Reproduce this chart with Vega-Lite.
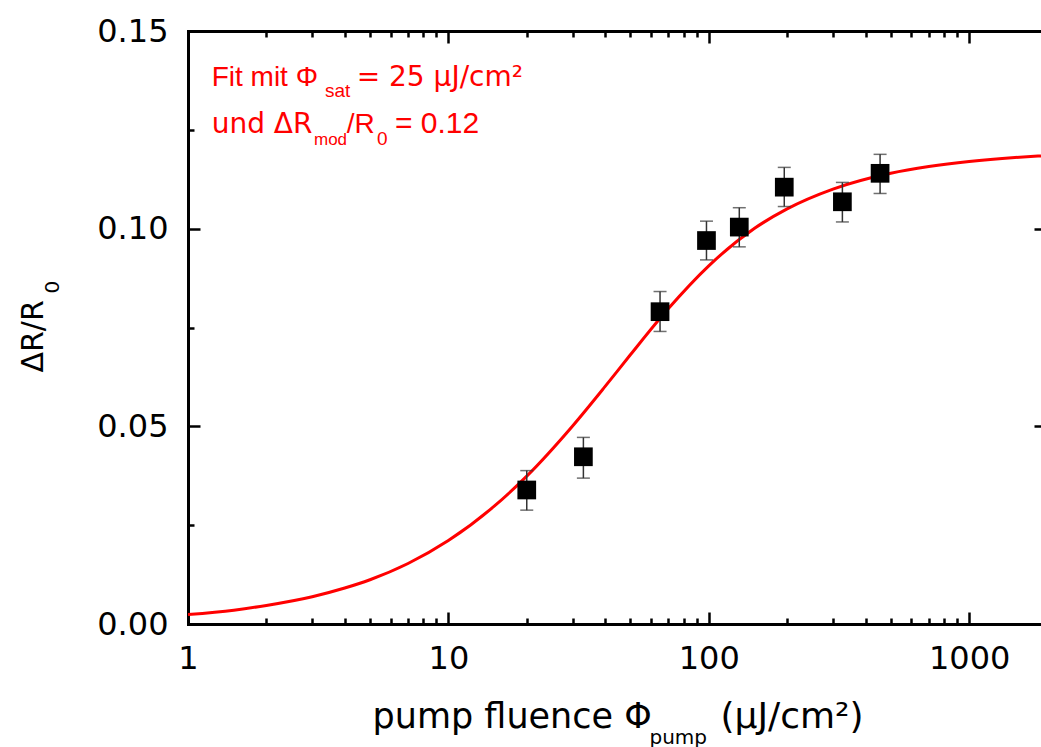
{
  "$schema": "https://vega.github.io/schema/vega-lite/v6.json",
  "width": 853,
  "height": 593,
  "autosize": {"type": "none"},
  "padding": {"left": 188, "top": 31, "right": 0, "bottom": 123},
  "background": "white",
  "config": {
    "view": {"stroke": null},
    "axis": {
      "grid": false,
      "domainColor": "black",
      "tickColor": "black",
      "labelColor": "black",
      "titleColor": "black",
      "labelFont": "DejaVu Sans",
      "titleFont": "DejaVu Sans",
      "titleFontWeight": "normal",
      "domainWidth": 3,
      "domainCap": "square",
      "tickWidth": 2.5,
      "labelFlush": false,
      "labelOverlap": false,
      "labelBound": false
    }
  },
  "datasets": {
    "fit": [
      {"fluence": 1, "dr": 0.0024},
      {"fluence": 1.5, "dr": 0.0035},
      {"fluence": 2, "dr": 0.0047},
      {"fluence": 3, "dr": 0.0069},
      {"fluence": 4, "dr": 0.0091},
      {"fluence": 5, "dr": 0.0112},
      {"fluence": 7, "dr": 0.0153},
      {"fluence": 10, "dr": 0.0211},
      {"fluence": 15, "dr": 0.0298},
      {"fluence": 20, "dr": 0.0374},
      {"fluence": 30, "dr": 0.0501},
      {"fluence": 40, "dr": 0.0601},
      {"fluence": 50, "dr": 0.0681},
      {"fluence": 70, "dr": 0.0798},
      {"fluence": 100, "dr": 0.0906},
      {"fluence": 150, "dr": 0.1001},
      {"fluence": 200, "dr": 0.105},
      {"fluence": 300, "dr": 0.11},
      {"fluence": 500, "dr": 0.114},
      {"fluence": 700, "dr": 0.1157},
      {"fluence": 1000, "dr": 0.117},
      {"fluence": 1500, "dr": 0.118},
      {"fluence": 1888, "dr": 0.1184}
    ],
    "meas": [
      {"fluence": 20, "dr": 0.0339, "lo": 0.0288, "hi": 0.0388},
      {"fluence": 33, "dr": 0.0423, "lo": 0.0369, "hi": 0.0472},
      {"fluence": 65, "dr": 0.079, "lo": 0.074, "hi": 0.0841},
      {"fluence": 98, "dr": 0.097, "lo": 0.0921, "hi": 0.1019},
      {"fluence": 131, "dr": 0.1004, "lo": 0.0954, "hi": 0.1053},
      {"fluence": 195, "dr": 0.1105, "lo": 0.1056, "hi": 0.1155},
      {"fluence": 326, "dr": 0.1068, "lo": 0.1017, "hi": 0.1117},
      {"fluence": 455, "dr": 0.114, "lo": 0.1089, "hi": 0.1188}
    ]
  },
  "resolve": {"axis": {"x": "independent", "y": "independent"}},
  "layer": [
    {
      "data": {"name": "fit"},
      "mark": {"type": "line", "color": "#ff0000", "strokeWidth": 3, "interpolate": "monotone", "clip": true},
      "encoding": {
        "x": {
          "field": "fluence", "type": "quantitative",
          "scale": {"type": "log", "domain": [1, 1888], "nice": false},
          "axis": {
            "orient": "bottom", "values": [1, 10, 100, 1000], "format": "d",
            "tickSize": -12, "labelPadding": 31, "labelFontSize": 32,
            "title": "pump fluence Φ", "titleFontSize": 35,
            "titleX": 184, "titleY": 103, "titleAlign": "left", "titleBaseline": "alphabetic"
          }
        },
        "y": {
          "field": "dr", "type": "quantitative",
          "scale": {"domain": [0, 0.15], "nice": false, "zero": false},
          "axis": {
            "orient": "left", "values": [0, 0.05, 0.1, 0.15], "format": ".2f",
            "tickSize": -12, "labelPadding": 32, "labelFontSize": 32,
            "title": "ΔR/R", "titleFontSize": 30, "titleAngle": 270,
            "titleX": -146, "titleY": 341, "titleAlign": "left", "titleBaseline": "alphabetic"
          }
        }
      }
    },
    {
      "data": {"name": "meas"},
      "mark": {"type": "rule", "color": "#333333", "strokeWidth": 1.5},
      "encoding": {
        "x": {
          "field": "fluence", "type": "quantitative",
          "scale": {"type": "log", "domain": [1, 1888], "nice": false},
          "axis": {
            "orient": "top", "values": [1, 10, 100, 1000],
            "tickSize": -12, "labels": false, "domain": true,
            "title": "(µJ/cm²)", "titleFontSize": 36,
            "titleX": 532, "titleY": 696, "titleAlign": "left", "titleBaseline": "alphabetic"
          }
        },
        "y": {
          "field": "lo", "type": "quantitative",
          "scale": {"domain": [0, 0.15], "nice": false, "zero": false},
          "axis": {
            "orient": "right", "values": [0, 0.05, 0.1, 0.15],
            "tickSize": -7, "labels": false, "domain": false, "title": null
          }
        },
        "y2": {"field": "hi"}
      }
    },
    {
      "data": {"name": "meas"},
      "mark": {"type": "tick", "orient": "horizontal", "color": "#333333", "size": 13, "thickness": 1.5},
      "encoding": {
        "x": {
          "field": "fluence", "type": "quantitative",
          "scale": {"type": "log", "domain": [1, 1888], "nice": false},
          "axis": {
            "orient": "top", "values": [2, 3, 4, 5, 6, 7, 8, 9, 20, 30, 40, 50, 60, 70, 80, 90, 200, 300, 400, 500, 600, 700, 800, 900],
            "tickSize": -6, "labels": false, "domain": false, "title": null
          }
        },
        "y": {
          "field": "lo", "type": "quantitative",
          "scale": {"domain": [0, 0.15], "nice": false, "zero": false},
          "axis": null
        }
      }
    },
    {
      "data": {"name": "meas"},
      "mark": {"type": "tick", "orient": "horizontal", "color": "#333333", "size": 13, "thickness": 1.5},
      "encoding": {
        "x": {
          "field": "fluence", "type": "quantitative",
          "scale": {"type": "log", "domain": [1, 1888], "nice": false},
          "axis": null
        },
        "y": {
          "field": "hi", "type": "quantitative",
          "scale": {"domain": [0, 0.15], "nice": false, "zero": false},
          "axis": null
        }
      }
    },
    {
      "data": {"name": "meas"},
      "mark": {"type": "point", "shape": "square", "filled": true, "color": "black", "size": 350, "opacity": 1},
      "encoding": {
        "x": {
          "field": "fluence", "type": "quantitative",
          "scale": {"type": "log", "domain": [1, 1888], "nice": false},
          "axis": {
            "orient": "bottom", "values": [2, 3, 4, 5, 6, 7, 8, 9, 20, 30, 40, 50, 60, 70, 80, 90, 200, 300, 400, 500, 600, 700, 800, 900],
            "tickSize": -6, "labels": false, "domain": false,
            "title": "pump", "titleFontSize": 20,
            "titleX": 461, "titleY": 119, "titleAlign": "left", "titleBaseline": "alphabetic"
          }
        },
        "y": {
          "field": "dr", "type": "quantitative",
          "scale": {"domain": [0, 0.15], "nice": false, "zero": false},
          "axis": {
            "orient": "left", "values": [0.025, 0.075, 0.125],
            "tickSize": -6, "labels": false, "domain": false,
            "title": "0", "titleFontSize": 20, "titleAngle": 270,
            "titleX": -130, "titleY": 262, "titleAlign": "left", "titleBaseline": "alphabetic"
          }
        }
      }
    },
    {
      "data": {"values": [{}]},
      "mark": {"type": "text", "text": "Fit mit Φ", "font": "Liberation Sans", "fontSize": 28, "color": "#ff0000", "align": "left", "baseline": "alphabetic"},
      "encoding": {
        "x": {"datum": 1.233, "type": "quantitative", "scale": {"type": "log", "domain": [1, 1888], "nice": false}, "axis": null},
        "y": {"datum": 0.1361, "type": "quantitative", "scale": {"domain": [0, 0.15], "nice": false, "zero": false}, "axis": null}
      }
    },
    {
      "data": {"values": [{}]},
      "mark": {"type": "text", "text": "sat", "font": "Liberation Sans", "fontSize": 19, "color": "#ff0000", "align": "left", "baseline": "alphabetic"},
      "encoding": {
        "x": {"datum": 3.358, "type": "quantitative", "scale": {"type": "log", "domain": [1, 1888], "nice": false}, "axis": null},
        "y": {"datum": 0.1333, "type": "quantitative", "scale": {"domain": [0, 0.15], "nice": false, "zero": false}, "axis": null}
      }
    },
    {
      "data": {"values": [{}]},
      "mark": {"type": "text", "text": "= 25 µJ/cm²", "font": "DejaVu Sans", "fontSize": 28, "color": "#ff0000", "align": "left", "baseline": "alphabetic"},
      "encoding": {
        "x": {"datum": 4.445, "type": "quantitative", "scale": {"type": "log", "domain": [1, 1888], "nice": false}, "axis": null},
        "y": {"datum": 0.1361, "type": "quantitative", "scale": {"domain": [0, 0.15], "nice": false, "zero": false}, "axis": null}
      }
    },
    {
      "data": {"values": [{}]},
      "mark": {"type": "text", "text": "und ΔR", "font": "DejaVu Sans", "fontSize": 28, "color": "#ff0000", "align": "left", "baseline": "alphabetic"},
      "encoding": {
        "x": {"datum": 1.233, "type": "quantitative", "scale": {"type": "log", "domain": [1, 1888], "nice": false}, "axis": null},
        "y": {"datum": 0.1243, "type": "quantitative", "scale": {"domain": [0, 0.15], "nice": false, "zero": false}, "axis": null}
      }
    },
    {
      "data": {"values": [{}]},
      "mark": {"type": "text", "text": "mod", "font": "Liberation Sans", "fontSize": 17, "color": "#ff0000", "align": "left", "baseline": "alphabetic"},
      "encoding": {
        "x": {"datum": 3.047, "type": "quantitative", "scale": {"type": "log", "domain": [1, 1888], "nice": false}, "axis": null},
        "y": {"datum": 0.1212, "type": "quantitative", "scale": {"domain": [0, 0.15], "nice": false, "zero": false}, "axis": null}
      }
    },
    {
      "data": {"values": [{}]},
      "mark": {"type": "text", "text": "/R", "font": "Liberation Sans", "fontSize": 28, "color": "#ff0000", "align": "left", "baseline": "alphabetic"},
      "encoding": {
        "x": {"datum": 4.069, "type": "quantitative", "scale": {"type": "log", "domain": [1, 1888], "nice": false}, "axis": null},
        "y": {"datum": 0.1243, "type": "quantitative", "scale": {"domain": [0, 0.15], "nice": false, "zero": false}, "axis": null}
      }
    },
    {
      "data": {"values": [{}]},
      "mark": {"type": "text", "text": "0", "font": "Liberation Sans", "fontSize": 19, "color": "#ff0000", "align": "left", "baseline": "alphabetic"},
      "encoding": {
        "x": {"datum": 5.318, "type": "quantitative", "scale": {"type": "log", "domain": [1, 1888], "nice": false}, "axis": null},
        "y": {"datum": 0.1212, "type": "quantitative", "scale": {"domain": [0, 0.15], "nice": false, "zero": false}, "axis": null}
      }
    },
    {
      "data": {"values": [{}]},
      "mark": {"type": "text", "text": "= 0.12", "font": "Liberation Sans", "fontSize": 30, "color": "#ff0000", "align": "left", "baseline": "alphabetic"},
      "encoding": {
        "x": {"datum": 6.236, "type": "quantitative", "scale": {"type": "log", "domain": [1, 1888], "nice": false}, "axis": null},
        "y": {"datum": 0.1243, "type": "quantitative", "scale": {"domain": [0, 0.15], "nice": false, "zero": false}, "axis": null}
      }
    }
  ]
}
